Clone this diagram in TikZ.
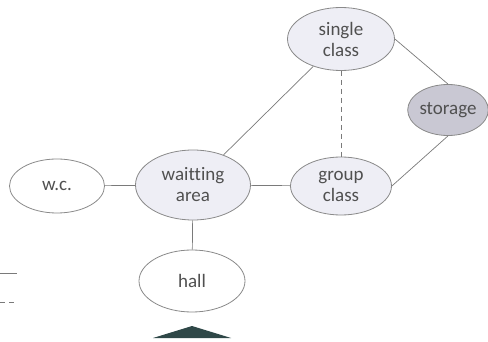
\documentclass[tikz,border=0pt]{standalone}
\usepackage{fontspec}
\setmainfont{Carlito}[Ligatures=NoCommon]
\usetikzlibrary{shapes.geometric}
\definecolor{edgegray}{HTML}{7A7A7A}
\definecolor{rimgray}{HTML}{8A8A8A}
\definecolor{lightfill}{HTML}{EEEEF5}
\definecolor{darkfill}{HTML}{C9C8D3}
\definecolor{txtgray}{HTML}{505050}
\definecolor{pointer}{HTML}{2F4848}
\begin{document}
\begin{tikzpicture}[x=1pt,y=-1pt,
  room/.style={ellipse, draw=rimgray, line width=0.8pt, inner sep=0pt,
    text=txtgray, align=center, font=\fontsize{19}{21}\selectfont},
  plainroom/.style={room, fill=white},
  softroom/.style={room, fill=lightfill},
  darkroom/.style={room, fill=darkfill},
  link/.style={draw=edgegray, line width=0.7pt},
  dashlink/.style={link, dash pattern=on 5pt off 4pt}]
\useasboundingbox (0,0) rectangle (488,342);
\fill[white] (0,0) rectangle (488,342);
\node[softroom, minimum width=107pt, minimum height=63pt] (sc) at (341,39) {single\\class};
\node[darkroom, minimum width=75pt, minimum height=51pt] (st) at (448,110) {storage};
\node[plainroom, minimum width=95pt, minimum height=54pt] (wc) at (57,186) {w.c.};
\node[softroom, minimum width=115pt, minimum height=70pt] (wa) at (193,185) {waitting\\area};
\node[softroom, minimum width=101pt, minimum height=58pt] (gc) at (341,186) {group\\class};
\node[plainroom, minimum width=106pt, minimum height=62pt] (hl) at (192,281) {hall};
\draw[link] (wc) -- (wa);
\draw[link] (wa) -- (gc);
\draw[link] (wa) -- (sc);
\draw[link] (wa) -- (hl);
\draw[dashlink] (sc.south) -- (gc.north);
\draw[link] (sc.east) -- (st.north);
\draw[link] (st.south) -- (gc.east);
\coordinate (l1a) at (0,273); \coordinate (l1b) at (17,273);
\coordinate (l2a) at (0,302); \coordinate (l2b) at (17,302);
\draw[link] (l1a) -- (l1b);
\draw[dashlink] (l2a) -- (l2b);
\coordinate (ta) at (153,338); \coordinate (tb) at (231,338); \coordinate (tc) at (192,326);
\fill[pointer] (ta) -- (tc) -- (tb) -- cycle;
\end{tikzpicture}
\end{document}
